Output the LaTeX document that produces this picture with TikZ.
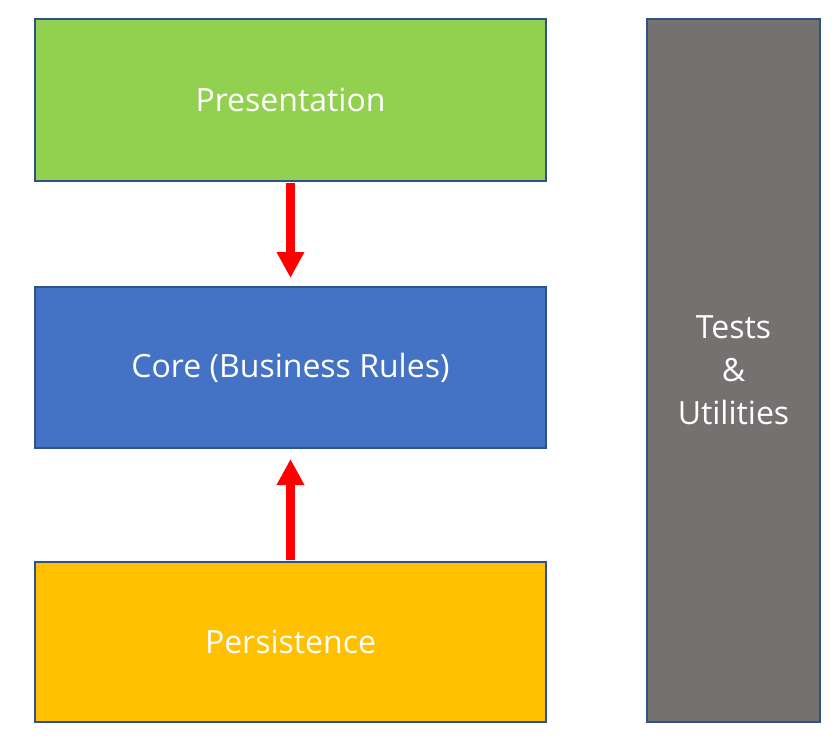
\documentclass[tikz,border=0pt]{standalone}
\usepackage{fontspec}
\setmainfont{Open Sans}
\usetikzlibrary{arrows.meta}
\definecolor{pgreen}{HTML}{92D050}
\definecolor{pblue}{HTML}{4472C4}
\definecolor{pgold}{HTML}{FFC000}
\definecolor{pgray}{HTML}{767171}
\definecolor{pborder}{HTML}{2F528F}
\tikzset{
  layer/.style={draw=pborder, line width=1.5pt, text=white, font=\fontsize{24}{32.25}\selectfont, align=center, inner sep=0pt},
  dep/.style={draw=red, line width=6.75pt, -{Triangle[length=19.5pt,width=19.5pt]}}
}
\begin{document}
\begin{tikzpicture}[x=0.75pt,y=-0.75pt]
\useasboundingbox (0,0) rectangle (836,746);
\node[layer, fill=pgreen, minimum width=383.25pt, minimum height=121.5pt] (pres) at (290.5,100) {\raisebox{-0.75pt}{Presentation}};
\node[layer, fill=pblue, minimum width=383.25pt, minimum height=120.75pt] (core) at (290.5,367.5) {\raisebox{-2.5pt}{Core (Business Rules)}};
\node[layer, fill=pgold, minimum width=383.25pt, minimum height=120pt] (pers) at (290.5,642) {\raisebox{-1pt}{Persistence}};
\node[layer, fill=pgray, minimum width=129.75pt, minimum height=527.25pt] (tests) at (733.5,370.5) {Tests\\\&\\Utilities};
\draw[dep, shorten >=6pt, shorten <=0.75pt] (pres.south) -- (core.north);
\draw[dep, shorten >=7.5pt, shorten <=0.75pt] (pers.north) -- (core.south);
\end{tikzpicture}
\end{document}
